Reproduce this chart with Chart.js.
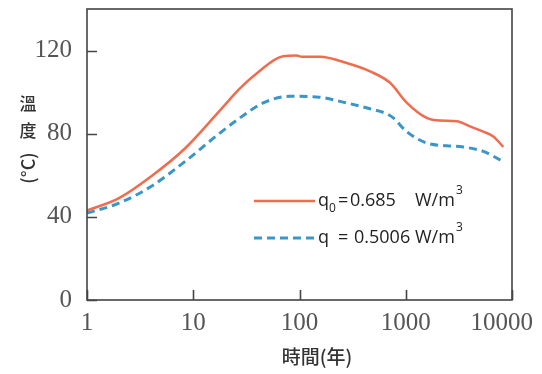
<!DOCTYPE html>
<html>
<head>
<meta charset="utf-8">
<script src="https://cdn.jsdelivr.net/npm/chart.js@4.4.0/dist/chart.umd.min.js"></script>
<style>
  html, body { margin: 0; padding: 0; background: #fff; }
</style>
</head>
<body>
<canvas id="tempChart" width="542" height="374"></canvas>
<script>
// readings: time (years) and temperature (°C)
const yearsQ0 = [1, 2, 4, 8.4, 17, 22, 26.5, 39.5, 70, 94, 105, 156, 278, 461, 711, 1020, 1575, 2100, 3020, 4030, 5370, 6670, 8280];
const tempQ0 = [43, 49, 59.4, 73, 90, 96.4, 101, 109, 117.3, 117.6, 117, 117, 114, 110, 104.5, 95, 87.6, 86.3, 86, 83.5, 81, 78.7, 73.6];

const yearsQ = [1, 2, 4, 8.4, 17, 27.5, 45.6, 81, 145, 278, 461, 662, 764, 1020, 1575, 2430, 3480, 5370, 8280];
const tempQ = [41.8, 46.6, 54.6, 66.7, 79.5, 87.6, 94.8, 98, 97.7, 94.8, 92, 89.6, 87.6, 81, 75.5, 74.2, 73.6, 71.5, 66.6];

const xTicks = [1, 10, 100, 1000, 10000];
const yTicks = [0, 40, 80, 120];

const orange = 'rgb(240, 108, 78)';
const blue = 'rgb(58, 150, 200)';
const axisColor = '#444';

function toPoints(xs, ys) {
    return xs.map((x, i) => ({ x: x, y: ys[i] }));
}

// box, inward tick marks, x labels, axis titles and the legend
const decorations = {
    id: 'decorations',
    afterDraw(chart) {
        const ctx = chart.ctx;
        const area = chart.chartArea;
        const xs = chart.scales.x;
        const ys = chart.scales.y;
        ctx.save();

        ctx.strokeStyle = axisColor;
        ctx.lineWidth = 1.6;
        ctx.strokeRect(area.left, area.top, area.right - area.left, area.bottom - area.top);

        ctx.beginPath();
        yTicks.forEach(v => {
            const py = Math.round(ys.getPixelForValue(v)) + 0.5;
            ctx.moveTo(area.left, py);
            ctx.lineTo(area.left + 10, py);
        });
        xTicks.forEach(v => {
            const px = Math.round(xs.getPixelForValue(v)) + 0.5;
            ctx.moveTo(px, area.bottom);
            ctx.lineTo(px, area.bottom - 10);
        });
        ctx.stroke();

        // x tick labels, last one kept inside the canvas
        ctx.font = '25px "Liberation Serif"';
        ctx.fillStyle = '#555';
        ctx.textBaseline = 'middle';
        ctx.textAlign = 'center';
        xTicks.forEach(v => {
            const label = String(v);
            const w = ctx.measureText(label).width;
            let px = xs.getPixelForValue(v);
            if (px + w / 2 > 533) px = 533 - w / 2;
            ctx.fillText(label, px, area.bottom + 23);
        });

        // axis titles
        ctx.fillStyle = '#333';
        ctx.font = '500 19px "Noto Sans CJK TC"';
        ctx.fillText('時間(年)', 317, 357);

        ctx.font = '500 17px "Noto Sans CJK TC"';
        ctx.fillText('溫', 28, 104);
        ctx.fillText('度', 28, 131);
        ctx.save();
        ctx.translate(28, 168);
        ctx.rotate(-Math.PI / 2);
        ctx.font = '500 18px "Noto Sans CJK TC"';
        ctx.fillText('(°C)', 0, 0);
        ctx.restore();

        // legend
        const rows = [
            { y: 201, color: orange, width: 2.5, dash: [], sub: '0', value: '0.685', valueX: 350 },
            { y: 238, color: blue, width: 3, dash: [8, 5], sub: '', value: '0.5006', valueX: 354 }
        ];
        rows.forEach(r => {
            ctx.beginPath();
            ctx.strokeStyle = r.color;
            ctx.lineWidth = r.width;
            ctx.setLineDash(r.dash);
            ctx.moveTo(254, r.y);
            ctx.lineTo(315, r.y);
            ctx.stroke();
            ctx.setLineDash([]);

            ctx.fillStyle = '#222';
            ctx.textAlign = 'left';
            ctx.textBaseline = 'alphabetic';
            ctx.font = '18px "Open Sans"';
            ctx.fillText('q', 318, r.y + 5);
            if (r.sub) {
                ctx.font = '12px "Open Sans"';
                ctx.fillText(r.sub, 329, r.y + 11);
            }
            ctx.font = '18px "Open Sans"';
            ctx.fillText('=', 338, r.y + 5);
            ctx.fillText(r.value, r.valueX, r.y + 5);
            ctx.fillText('W/m', 415, r.y + 5);
            const w = ctx.measureText('W/m').width;
            ctx.font = '12px "Open Sans"';
            ctx.fillText('3', 415 + w + 1, r.y - 7);
        });

        ctx.restore();
    }
};

const tempChartCanvas = document.getElementById('tempChart');
new Chart(tempChartCanvas, {
    type: 'line',
    data: {
        datasets: [{
            label: 'q0 = 0.685 W/m3',
            data: toPoints(yearsQ0, tempQ0),
            borderColor: orange,
            borderWidth: 2.5,
            pointRadius: 0,
            cubicInterpolationMode: 'monotone',
            fill: false
        }, {
            label: 'q = 0.5006 W/m3',
            data: toPoints(yearsQ, tempQ),
            borderColor: blue,
            borderWidth: 3,
            borderDash: [8, 5],
            pointRadius: 0,
            cubicInterpolationMode: 'monotone',
            fill: false
        }]
    },
    options: {
        responsive: false,
        animation: false,
        layout: { padding: { left: 0, right: 30, top: 9, bottom: 0 } },
        plugins: {
            legend: { display: false },
            tooltip: { enabled: false }
        },
        scales: {
            x: {
                type: 'logarithmic',
                min: 1,
                max: 10000,
                grid: { display: false },
                border: { display: false },
                ticks: { display: false },
                afterFit(scale) {
                    scale.height = 74;
                    scale.paddingLeft = 0;
                    scale.paddingRight = 0;
                }
            },
            y: {
                min: 0,
                max: 140,
                grid: { display: false },
                border: { display: false },
                afterBuildTicks(scale) {
                    scale.ticks = yTicks.map(v => ({ value: v }));
                },
                ticks: {
                    color: '#555',
                    padding: 7,
                    font: { family: 'Liberation Serif', size: 25 }
                },
                afterFit(scale) {
                    scale.width = 87;
                    scale.paddingTop = 0;
                    scale.paddingBottom = 0;
                }
            }
        }
    },
    plugins: [decorations]
});
</script>
</body>
</html>
